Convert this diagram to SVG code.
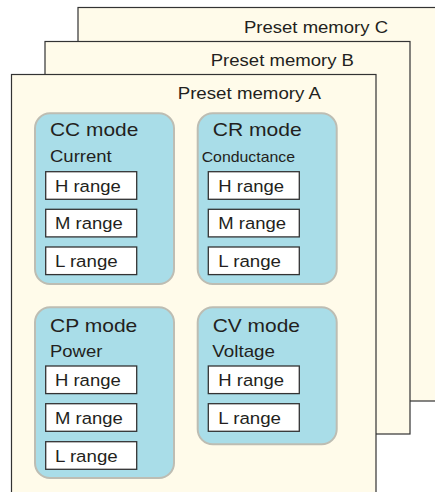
<svg xmlns="http://www.w3.org/2000/svg" width="435" height="492" viewBox="0 0 435 492">
<style>
.panel{fill:#FFFBEA;stroke:#333333;stroke-width:1.2}
.mode{fill:#A9DDE8;stroke:#BDBDB3;stroke-width:2}
.range{fill:#FFFFFF;stroke:#333333;stroke-width:1.3}
text{font-family:"Liberation Sans",Arial,sans-serif;fill:#231F20}
.pm{font-size:16.8px}
.title{font-size:17.8px}
.sub{font-size:16.4px}
.small{font-size:15px}
.rt{font-size:16.8px}
</style>
<rect width="435" height="492" fill="#FFFFFF"/>
<g id="presetC">
<rect class="panel" x="78" y="7.5" width="400" height="393.5"/>
<text class="pm" x="244" y="32.7" textLength="144" lengthAdjust="spacingAndGlyphs">Preset memory C</text>
</g>
<g id="presetB">
<rect class="panel" x="45" y="41.5" width="365" height="392.5"/>
<text class="pm" x="210.7" y="65.7" textLength="143.3" lengthAdjust="spacingAndGlyphs">Preset memory B</text>
</g>
<g id="presetA">
<rect class="panel" x="11.5" y="74.5" width="364.5" height="430"/>
<text class="pm" x="177.7" y="99.3" textLength="143.3" lengthAdjust="spacingAndGlyphs">Preset memory A</text>
</g>
<g id="ccmode">
<rect class="mode" x="35" y="113.3" width="139" height="170.7" rx="15"/>
<text class="title" x="50" y="136.3" textLength="88.3" lengthAdjust="spacingAndGlyphs">CC mode</text>
<text class="sub" x="50" y="162" textLength="61.7" lengthAdjust="spacingAndGlyphs">Current</text>
<rect class="range" x="45.7" y="171.7" width="91" height="27.6"/>
<text class="rt" x="55" y="191.7" textLength="65.7" lengthAdjust="spacingAndGlyphs">H range</text>
<rect class="range" x="45.7" y="209.3" width="91" height="27.6"/>
<text class="rt" x="55" y="229.3" textLength="67.7" lengthAdjust="spacingAndGlyphs">M range</text>
<rect class="range" x="45.7" y="247" width="91" height="27.6"/>
<text class="rt" x="55" y="267" textLength="62.7" lengthAdjust="spacingAndGlyphs">L range</text>
</g>
<g id="crmode">
<rect class="mode" x="197.7" y="113.3" width="139" height="170.7" rx="15"/>
<text class="title" x="212.7" y="136.3" textLength="89" lengthAdjust="spacingAndGlyphs">CR mode</text>
<text class="small" x="201.7" y="162" textLength="93.3" lengthAdjust="spacingAndGlyphs">Conductance</text>
<rect class="range" x="208.3" y="171.7" width="91" height="27.6"/>
<text class="rt" x="218.3" y="191.7" textLength="65.7" lengthAdjust="spacingAndGlyphs">H range</text>
<rect class="range" x="208.3" y="209.3" width="91" height="27.6"/>
<text class="rt" x="218.3" y="229.3" textLength="67.7" lengthAdjust="spacingAndGlyphs">M range</text>
<rect class="range" x="208.3" y="247" width="91" height="27.6"/>
<text class="rt" x="218.3" y="267" textLength="62.7" lengthAdjust="spacingAndGlyphs">L range</text>
</g>
<g id="cpmode">
<rect class="mode" x="35" y="307.3" width="139" height="170.7" rx="15"/>
<text class="title" x="50" y="331.7" textLength="87.3" lengthAdjust="spacingAndGlyphs">CP mode</text>
<text class="sub" x="50" y="356.7" textLength="52.3" lengthAdjust="spacingAndGlyphs">Power</text>
<rect class="range" x="45.7" y="366" width="91" height="27.6"/>
<text class="rt" x="55" y="386" textLength="65.7" lengthAdjust="spacingAndGlyphs">H range</text>
<rect class="range" x="45.7" y="403.7" width="91" height="27.6"/>
<text class="rt" x="55" y="423.7" textLength="67.7" lengthAdjust="spacingAndGlyphs">M range</text>
<rect class="range" x="45.7" y="441.7" width="91" height="27.6"/>
<text class="rt" x="55" y="461.7" textLength="62.7" lengthAdjust="spacingAndGlyphs">L range</text>
</g>
<g id="cvmode">
<rect class="mode" x="197.7" y="307.3" width="139" height="137" rx="15"/>
<text class="title" x="212.7" y="331.7" textLength="87.3" lengthAdjust="spacingAndGlyphs">CV mode</text>
<text class="sub" x="212.3" y="356.7" textLength="62.7" lengthAdjust="spacingAndGlyphs">Voltage</text>
<rect class="range" x="208.3" y="366" width="91" height="27.6"/>
<text class="rt" x="218.3" y="386" textLength="65.7" lengthAdjust="spacingAndGlyphs">H range</text>
<rect class="range" x="208.3" y="403.7" width="91" height="27.6"/>
<text class="rt" x="218.3" y="423.7" textLength="62.7" lengthAdjust="spacingAndGlyphs">L range</text>
</g>
<g id="connectors"></g>
</svg>
